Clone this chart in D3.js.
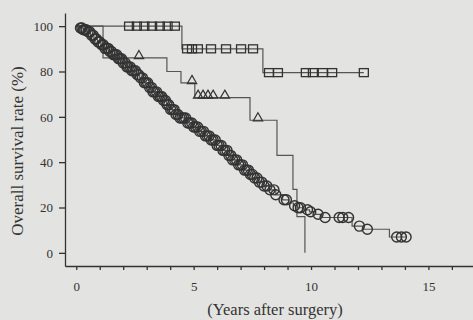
<!DOCTYPE html>
<html>
<head>
<meta charset="utf-8">
<script src="https://cdn.jsdelivr.net/npm/d3@7"></script>
<style>
  html, body { margin: 0; padding: 0; background: #e3e3e1; }
  svg { display: block; }
  .tick text { font-family: "Liberation Serif", "DejaVu Serif", serif; font-size: 13px; fill: #333; }
</style>
</head>
<body>
<svg id="chart" width="473" height="320"></svg>
<script>
// ---------------- DATA ----------------

// x ticks (years), labels only every 5 years
const xTicks = [0, 1, 2, 3, 4, 5, 6, 7, 8, 9, 10, 11, 12, 13, 14, 15, 16];
const xTickLabels = [0, 5, 10, 15];
const yTicks = [0, 20, 40, 60, 80, 100];

// group 1 (squares): [time, survival after step]
const squareSteps = [[0, 100], [4.5, 90], [7.95, 79.5]];
const squareEnd = 12.25;
const squareCensor = [2.25, 2.58, 2.9, 3.23, 3.56, 3.89, 4.2,
  4.72, 4.93, 5.18, 5.74, 6.38, 7.02, 7.53,
  8.21, 8.59, 9.78, 10.08, 10.5, 10.9, 12.25];

// group 2 (triangles)
const triangleSteps = [[0, 100], [1.14, 86], [3.86, 80], [4.46, 75], [5.05, 68.5],
  [7.4, 58.5], [8.55, 43], [9.23, 28], [9.4, 16], [9.74, 0]];
const triangleEnd = 9.74;
const triangleCensor = [2.67, 4.93, 5.19, 5.4, 5.61, 5.83, 6.33, 7.74];

// group 3 (circles)
const circleSteps = [[0, 100], [0.15, 99.2], [0.3, 98.4], [0.45, 97.5], [0.6, 96], [0.75, 94.3],
  [0.9, 93], [1.05, 91.8], [1.2, 90.2], [1.38, 88.8], [1.55, 87.4], [1.75, 85.6], [1.95, 83.8],
  [2.15, 82], [2.35, 80.3], [2.55, 78.6], [2.7, 77.2], [2.9, 75], [3.08, 73], [3.26, 71],
  [3.45, 69], [3.65, 67.2], [3.85, 65.3], [4.02, 63.2], [4.19, 61], [4.4, 59.5], [4.7, 57.3],
  [4.95, 55.5], [5.2, 53.6], [5.45, 51.6], [5.68, 49.8], [5.95, 47.4], [6.2, 45.2], [6.45, 43],
  [6.66, 41], [6.9, 38.8], [7.15, 36.5], [7.35, 34.6], [7.51, 33], [7.75, 31.2], [8.0, 29.5],
  [8.23, 27.8], [8.5, 25.6], [8.79, 23.4], [9.05, 22], [9.25, 20.8], [9.43, 19.9], [9.7, 19],
  [9.94, 18.1], [10.2, 17], [10.45, 15.6], [11.75, 11.8], [12.2, 10.4], [13.34, 7]];
const circleEnd = 14.06;
const circleCensor = [0.18, 0.24, 0.3, 0.36, 0.42, 0.5, 0.57, 0.65, 0.72, 0.8, 0.86, 0.93,
  1.0, 1.08, 1.15, 1.22, 1.3, 1.36, 1.43, 1.5, 1.58, 1.65, 1.72, 1.8, 1.86, 1.93, 2.0,
  2.08, 2.16, 2.22, 2.3, 2.37, 2.44, 2.52, 2.6, 2.66, 2.74, 2.82, 2.9, 2.97, 3.04, 3.12,
  3.2, 3.27, 3.34, 3.42, 3.5, 3.57, 3.64, 3.72, 3.8, 3.87, 3.94, 4.02, 4.1, 4.17, 4.25,
  4.33, 4.42, 4.5, 4.58, 4.66, 4.75, 4.83, 4.92, 5.0, 5.08, 5.17, 5.25, 5.33, 5.42, 5.5,
  5.58, 5.66, 5.75, 5.83, 5.92, 6.0, 6.08, 6.17, 6.25, 6.33, 6.42, 6.5, 6.58, 6.66, 6.75,
  6.83, 6.92, 7.0, 7.08, 7.17, 7.25, 7.33, 7.42, 7.5, 7.6, 7.7, 7.8, 7.9, 8.0, 8.12,
  8.25, 8.42, 8.5, 8.85, 8.95, 9.3, 9.45, 9.55, 9.85, 9.98, 10.3, 10.6, 11.2, 11.35, 11.6,
  12.06, 12.4, 13.65, 13.85, 14.05];

// ---------------- CHART ----------------

const svg = d3.select("#chart");
const ink = "#333";
const lineInk = "#555";

const x = d3.scaleLinear().domain([-0.48, 16.9]).range([65, 473]);
const y = d3.scaleLinear().domain([-5.8, 105.8]).range([266, 13]);

// axes
const xAxis = svg.append("g")
  .attr("transform", `translate(0,${y(-5.8)})`)
  .call(d3.axisBottom(x).tickValues(xTicks).tickSize(4).tickSizeOuter(0).tickPadding(12)
    .tickFormat(d => xTickLabels.includes(d) ? d : ""));

const yAxis = svg.append("g")
  .attr("transform", `translate(${x(-0.48)},0)`)
  .call(d3.axisLeft(y).tickValues(yTicks).tickSize(6).tickSizeOuter(0).tickPadding(6));

[xAxis, yAxis].forEach(a => {
  a.selectAll("path, line").attr("stroke", ink).attr("stroke-width", 1.3);
});

// survival lookup for a step series
function survAt(steps, t) {
  let s = steps[0][1];
  steps.forEach(p => { if (p[0] <= t) s = p[1]; });
  return s;
}

const stepLine = d3.line()
  .x(d => x(d[0]))
  .y(d => y(d[1]))
  .curve(d3.curveStepAfter);

function drawCurve(steps, end) {
  const pts = steps.concat([[end, steps[steps.length - 1][1]]]);
  svg.append("path")
    .datum(pts)
    .attr("fill", "none")
    .attr("stroke", lineInk)
    .attr("stroke-width", 1.2)
    .attr("d", stepLine);
}

drawCurve(squareSteps, squareEnd);
drawCurve(triangleSteps, triangleEnd);
drawCurve(circleSteps, circleEnd);

// censor marks
svg.append("g").selectAll("rect")
  .data(squareCensor)
  .join("rect")
  .attr("x", d => x(d) - 4.5)
  .attr("y", d => y(survAt(squareSteps, d)) - 4)
  .attr("width", 9)
  .attr("height", 8)
  .attr("fill", "none")
  .attr("stroke", ink)
  .attr("stroke-width", 1.3);

const tri = d3.symbol().type(d3.symbolTriangle).size(38);
svg.append("g").selectAll("path")
  .data(triangleCensor)
  .join("path")
  .attr("transform", d => `translate(${x(d)},${y(survAt(triangleSteps, d)) - 2})`)
  .attr("d", tri)
  .attr("fill", "none")
  .attr("stroke", ink)
  .attr("stroke-width", 1.2);

svg.append("g").selectAll("circle")
  .data(circleCensor)
  .join("circle")
  .attr("cx", d => x(d))
  .attr("cy", d => y(survAt(circleSteps, d)))
  .attr("r", 5)
  .attr("fill", "none")
  .attr("stroke", ink)
  .attr("stroke-width", 1.4);

// axis titles
svg.append("text")
  .attr("transform", `translate(23,151) rotate(-90)`)
  .attr("text-anchor", "middle")
  .style("font-family", "'Liberation Serif', serif")
  .style("font-size", "17px")
  .attr("fill", "#333")
  .text("Overall survival rate (%)");

svg.append("text")
  .attr("x", 275)
  .attr("y", 315)
  .attr("text-anchor", "middle")
  .style("font-family", "'Liberation Serif', serif")
  .style("font-size", "16.5px")
  .attr("fill", "#333")
  .text("(Years after surgery)");
</script>
</body>
</html>
